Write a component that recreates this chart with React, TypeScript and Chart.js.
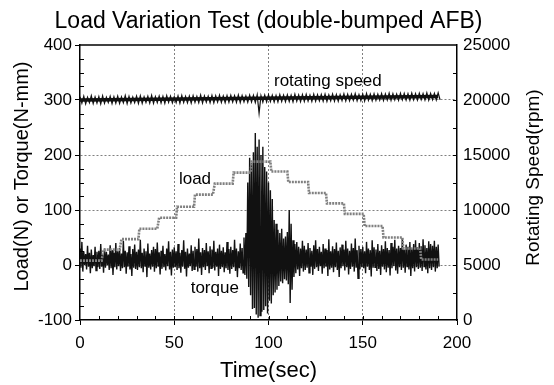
import React, { useEffect, useRef } from "react";
import { Chart, registerables } from "chart.js";

Chart.register(...registerables);

const chartTitle = "Load Variation Test (double-bumped AFB)";
const xTitle = "Time(sec)";
const leftTitle = "Load(N) or Torque(N-mm)";
const rightTitle = "Rotating Speed(rpm)";

const xTickValues = [0, 50, 100, 150, 200];
const leftTickValues = [-100, 0, 100, 200, 300, 400];
const rightTickValues = [0, 5000, 10000, 15000, 20000, 25000];

// torque envelope: one high and one low reading per second (t = 0..190 s)
const torqueHi = [
  30, 42, 25, 20, 35, 22, 28, 18, 33, 24,
  26, 38, 20, 30, 24, 19, 36, 27, 22, 40,
  25, 31, 21, 44, 26, 23, 34, 20, 29, 37,
  24, 28, 46, 22, 30, 25, 39, 21, 27, 33,
  29, 41, 23, 26, 35, 20, 30, 43, 24, 28,
  32, 25, 38, 22, 27, 45, 24, 30, 21, 36,
  26, 33, 29, 48, 23, 31, 27, 40, 25, 34,
  28, 44, 24, 30, 37, 26, 32, 23, 42, 29,
  33, 27, 46, 30, 25, 39, 31, 50, 58, 150,
  195, 185, 205, 240, 215, 228, 200, 215, 178, 170,
  150, 136, 120, 82, 75, 64, 58, 66, 48, 52,
  60, 100, 75, 45, 38, 42, 33, 30, 44, 35,
  28, 40, 31, 26, 36, 45, 29, 33, 24, 38,
  30, 27, 47, 25, 34, 29, 41, 26, 32, 37,
  28, 44, 30, 26, 39, 31, 48, 27, 35, 29,
  33, 25, 42, 30, 27, 45, 32, 28, 38, 26,
  36, 29, 43, 31, 27, 40, 33, 46, 30, 35,
  31, 49, 28, 37, 33, 42, 30, 38, 45, 32,
  40, 34, 47, 36, 31, 43, 38, 35, 44, 33,
  37,
];
const torqueLo = [
  -5, -12, 0, -8, -3, -15, -6, -2, -10, -4,
  -7, -3, -14, -5, -1, -9, -6, -18, -4, -8,
  -2, -11, -6, -4, -16, -3, -8, -20, -5, -7,
  -9, -4, -6, -13, -2, -22, -5, -8, -3, -12,
  -6, -3, -17, -7, -4, -10, -2, -8, -19, -5,
  -4, -9, -6, -14, -3, -7, -21, -5, -2, -11,
  -8, -3, -12, -6, -18, -4, -9, -2, -15, -6,
  -5, -10, -3, -20, -7, -4, -13, -6, -9, -16,
  -7, -4, -11, -22, -6, -9, -14, -18, -25, -40,
  -55, -80, -78, -90, -96, -92, -85, -82, -75, -88,
  -65, -70, -55, -50, -45, -38, -30, -33, -26, -28,
  -35, -69, -45, -22, -15, -8, -20, -6, -12, -9,
  -5, -14, -3, -18, -7, -4, -11, -2, -16, -6,
  -3, -20, -8, -5, -13, -4, -9, -22, -6, -2,
  -10, -4, -17, -7, -3, -12, -5, -24, -8, -4,
  -6, -15, -3, -9, -21, -5, -4, -11, -7, -18,
  -3, -8, -13, -5, -19, -6, -2, -10, -16, -4,
  -9, -5, -14, -3, -8, -20, -6, -12, -4, -7,
  -5, -11, -3, -8, -15, -6, -9, -4, -12, -6,
  -3,
];

// rotating speed envelope: high at even seconds, low at odd seconds (0..191 s)
const speedHi = [
  20300, 20350, 20250, 20400, 20280, 20320, 20380, 20260, 20340, 20300,
  20360, 20290, 20410, 20330, 20270, 20350, 20390, 20300, 20340, 20420,
  20310, 20370, 20330, 20400, 20350, 20290, 20380, 20420, 20340, 20360,
  20400, 20330, 20450, 20370, 20350, 20410, 20380, 20440, 20360, 20400,
  20430, 20390, 20460, 20410, 20380, 20450, 20420, 20470, 20400, 20440,
  20480, 20430, 20410, 20500, 20450, 20470, 20430, 20520, 20460, 20490,
  20510, 20450, 20540, 20480, 20500, 20530, 20470, 20550, 20510, 20490,
  20560, 20520, 20540, 20580, 20500, 20550, 20600, 20530, 20570, 20540,
  20590, 20560, 20620, 20580, 20550, 20610, 20600, 20570, 20630, 20590,
  20620, 20580, 20640, 20600, 20610, 20650,
];
const speedLo = [
  19700, 19650, 19750, 19680, 19720, 19640, 19700, 19760, 19670, 19710,
  19690, 19740, 19660, 19720, 19750, 19680, 19700, 19770, 19710, 19690,
  19760, 19720, 19700, 19780, 19730, 19750, 19710, 19770, 19740, 19720,
  19790, 19750, 19730, 19800, 19760, 19740, 19810, 19770, 19750, 19790,
  19820, 19780, 19760, 19830, 19790, 19810, 19770, 18800, 19800, 19820,
  19850, 19810, 19830, 19870, 19840, 19860, 19820, 19880, 19850, 19870,
  19900, 19860, 19880, 19920, 19890, 19870, 19930, 19900, 19880, 19940,
  19910, 19930, 19960, 19920, 19950, 19900, 19970, 19940, 19960, 19980,
  19950, 19990, 19960, 20000, 19970, 20010, 19990, 19980, 20020, 19990,
  20030, 20000, 19980, 20040, 20010, 20020,
];
// mean speed level (rpm) at the start and end of the run
const speedMeanTime = [0, 190];
const speedMean = [20000, 20320];

// load steps (N)
const loadStart = [0, 12.5, 22, 31.5, 42, 51.5, 61, 71.5, 81.5, 91, 101.5, 110.5, 121.5, 131, 140.5, 151, 161, 171.5, 181];
const loadEnd = [11.5, 21, 31, 41, 51, 60.5, 70.5, 81, 90.5, 101, 110, 121, 130.5, 140, 150.5, 160.5, 171, 180.5, 190];
const loadLevel = [8, 28, 47, 66, 86, 106, 128, 148, 168, 188, 170, 151, 131, 112, 93, 71, 50, 30, 10];

// in-plot labels (time, left-axis value)
const noteText = ["rotating speed", "load", "torque"];
const noteX = [131.5, 61, 71.5];
const noteY = [325, 147, -51];

export default function App() {
  const ref = useRef<HTMLCanvasElement | null>(null);

  useEffect(() => {
    const canvas = ref.current;
    if (!canvas) return;

    const torqueData: { x: number; y: number }[] = [];
    torqueHi.forEach((h, i) => {
      torqueData.push({ x: i, y: h });
      torqueData.push({ x: i + 0.5, y: torqueLo[i] });
    });
    const speedData: { x: number; y: number }[] = [];
    speedHi.forEach((h, i) => {
      speedData.push({ x: 2 * i, y: h });
      speedData.push({ x: 2 * i + 1, y: speedLo[i] });
    });
    const speedMeanData = speedMean.map((v, i) => ({ x: speedMeanTime[i], y: v }));
    const loadData: { x: number; y: number }[] = [];
    loadLevel.forEach((v, i) => {
      loadData.push({ x: loadStart[i], y: v });
      loadData.push({ x: loadEnd[i], y: v });
    });

    const font = "'Liberation Sans', Arial, sans-serif";

    const extras = {
      id: "extras",
      afterDraw(chart: any) {
        const { ctx, chartArea: a, scales } = chart;
        const sx = scales.x, sy = scales.y, sr = scales.y2;
        ctx.save();
        ctx.strokeStyle = "#000";
        ctx.lineWidth = 1.5;
        ctx.beginPath();
        ctx.moveTo(a.left, a.top);
        ctx.lineTo(a.right, a.top);
        ctx.stroke();
        ctx.lineWidth = 1;
        ctx.beginPath();
        for (let t = 10; t < 200; t += 10) {
          const px = Math.round(sx.getPixelForValue(t)) + 0.5;
          ctx.moveTo(px, a.bottom);
          ctx.lineTo(px, a.bottom - 4);
        }
        for (let v = -75; v < 400; v += 25) {
          if (v % 100 === 0) continue;
          const py = Math.round(sy.getPixelForValue(v)) + 0.5;
          ctx.moveTo(a.left, py);
          ctx.lineTo(a.left + 4, py);
        }
        for (let v = 2500; v < 25000; v += 2500) {
          const py = Math.round(sr.getPixelForValue(v)) + 0.5;
          ctx.moveTo(a.right, py);
          ctx.lineTo(a.right - 4, py);
        }
        ctx.stroke();

        ctx.fillStyle = "#000";
        ctx.textAlign = "center";
        ctx.textBaseline = "alphabetic";
        ctx.font = `23px ${font}`;
        ctx.fillText(chartTitle, (a.left + a.right) / 2, 28);

        ctx.font = `17px ${font}`;
        noteText.forEach((txt, i) => {
          ctx.fillText(txt, sx.getPixelForValue(noteX[i]), sy.getPixelForValue(noteY[i]));
        });

        const midY = (a.top + a.bottom) / 2;
        ctx.save();
        ctx.translate(28, midY - 6);
        ctx.rotate(-Math.PI / 2);
        ctx.font = `20px ${font}`;
        ctx.fillText(leftTitle, 0, 0);
        ctx.restore();
        ctx.save();
        ctx.translate(539, midY - 5);
        ctx.rotate(-Math.PI / 2);
        ctx.font = `19px ${font}`;
        ctx.fillText(rightTitle, 0, 0);
        ctx.restore();
        ctx.restore();
      },
    };

    const gridColor = (edges: number[]) => (c: any) =>
      c.tick && edges.includes(c.tick.value) ? "rgba(0,0,0,0)" : "#808080";

    const chart = new Chart(canvas, {
      type: "line",
      data: {
        datasets: [
          {
            label: "load",
            data: loadData,
            yAxisID: "y",
            borderColor: "#808080",
            borderWidth: 2.6,
            borderDash: [2, 1],
            pointRadius: 0,
            order: 1,
          },
          {
            label: "torque",
            data: torqueData,
            yAxisID: "y",
            borderColor: "#111",
            borderWidth: 1.4,
            pointRadius: 0,
            order: 2,
          },
          {
            label: "rotating speed",
            data: speedData,
            yAxisID: "y2",
            borderColor: "#111",
            borderWidth: 1.2,
            pointRadius: 0,
            order: 3,
          },
          {
            label: "rotating speed mean",
            data: speedMeanData,
            yAxisID: "y2",
            borderColor: "#111",
            borderWidth: 3.5,
            pointRadius: 0,
            order: 4,
          },
        ],
      },
      options: {
        responsive: false,
        animation: false,
        devicePixelRatio: 1,
        parsing: false,
        layout: { padding: { top: 45 } },
        plugins: {
          legend: { display: false },
          tooltip: { enabled: false },
          title: { display: false },
        },
        scales: {
          x: {
            type: "linear",
            min: 0,
            max: 200,
            afterFit: (s: any) => { s.height = 65; },
            afterBuildTicks: (s: any) => { s.ticks = xTickValues.map((v) => ({ value: v })); },
            ticks: {
              color: "#000",
              font: { family: font, size: 17 },
              padding: 8,
              maxRotation: 0,
              callback: (v: any) => String(v),
            },
            grid: { color: gridColor([0, 200]), lineWidth: 1, tickColor: "#000", tickLength: 5 },
            border: { color: "#000", width: 1.5, dash: [2, 2] },
            title: {
              display: true,
              text: xTitle,
              color: "#000",
              font: { family: font, size: 22 },
              padding: { top: 0, bottom: 1 },
            },
          },
          y: {
            type: "linear",
            position: "left",
            min: -100,
            max: 400,
            afterFit: (s: any) => { s.width = 80; },
            afterBuildTicks: (s: any) => { s.ticks = leftTickValues.map((v) => ({ value: v })); },
            ticks: {
              color: "#000",
              font: { family: font, size: 17 },
              padding: 3,
              callback: (v: any) => String(v),
            },
            grid: { color: gridColor([-100, 400]), lineWidth: 1, tickColor: "#000", tickLength: 5 },
            border: { color: "#000", width: 1.5, dash: [2, 2] },
          },
          y2: {
            type: "linear",
            position: "right",
            min: 0,
            max: 25000,
            afterFit: (s: any) => { s.width = 97; },
            afterBuildTicks: (s: any) => { s.ticks = rightTickValues.map((v) => ({ value: v })); },
            ticks: {
              color: "#000",
              font: { family: font, size: 17 },
              padding: 6,
              callback: (v: any) => String(v),
            },
            grid: { drawOnChartArea: false, drawTicks: false },
            border: { color: "#000", width: 1.5 },
          },
        },
      },
      plugins: [extras],
    });

    return () => chart.destroy();
  }, []);

  return (
    <div style={{ position: "fixed", left: 0, top: 0, width: 554, height: 385, background: "#fff" }}>
      <canvas ref={ref} width={554} height={385} style={{ display: "block" }} />
    </div>
  );
}
